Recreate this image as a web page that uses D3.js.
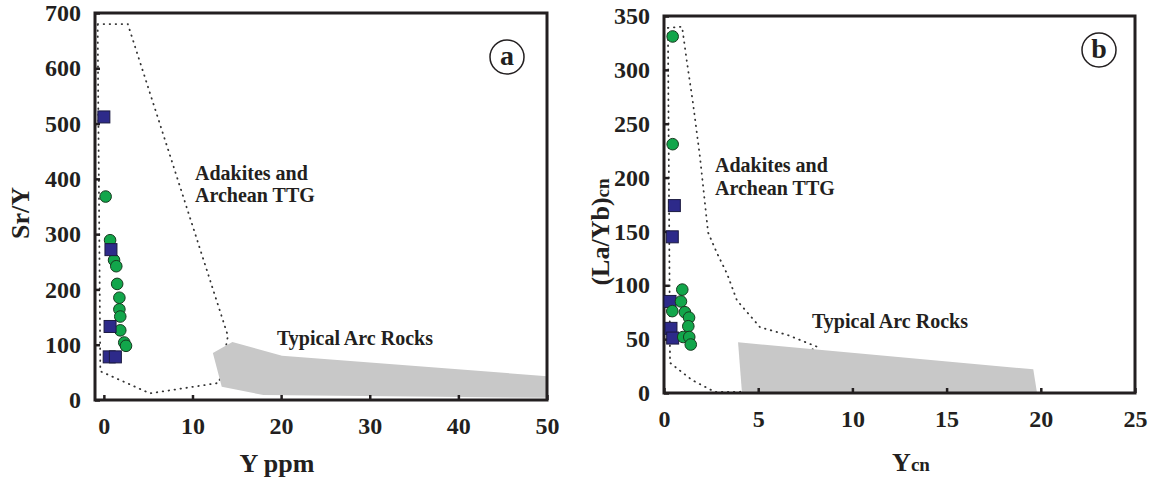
<!DOCTYPE html>
<html>
<head>
<meta charset="utf-8">
<script src="https://cdn.jsdelivr.net/npm/d3@7"></script>
<style>
  body { margin: 0; background: #fff; }
  text { font-family: "Liberation Serif", "Times New Roman", serif; font-weight: bold; fill: #231f20; }
</style>
</head>
<body>
<div id="chart"></div>
<script>
// ---- panel a : Sr/Y vs Y ppm ----
var aXTicks = [0, 10, 20, 30, 40, 50];
var aYTicks = [0, 100, 200, 300, 400, 500, 600, 700];
var aCircleX = [0.2, 0.7, 1.15, 1.4, 1.5, 1.75, 1.75, 1.85, 1.85, 2.3, 2.5];
var aCircleY = [368, 289, 253, 242, 210, 185, 164, 151, 126, 104, 98];
var aSquareX = [0.0, 0.8, 0.7, 0.6, 1.3];
var aSquareY = [512, 272, 133, 78, 78];
var aAdakite = [[-0.7, 680], [2.7, 680], [14, 116], [13, 31], [5.2, 12], [-0.4, 52]];
var aArc = [[12.3, 85], [14.5, 105], [20.1, 80], [50, 43], [50, 4], [18, 9], [13.3, 24]];

// ---- panel b : (La/Yb)cn vs Ycn ----
var bXTicks = [0, 5, 10, 15, 20, 25];
var bYTicks = [0, 50, 100, 150, 200, 250, 300, 350];
var bCircleX = [0.46, 0.46, 0.97, 0.9, 0.44, 1.11, 1.33, 1.29, 1.02, 1.34, 1.42];
var bCircleY = [331, 231, 96, 85, 76, 75, 70, 62, 52, 52, 45];
var bSquareX = [0.55, 0.44, 0.32, 0.37, 0.46];
var bSquareY = [174, 145, 85, 60, 51];
var bAdakite = [[0.21, 339], [0.96, 340], [1.22, 307], [1.54, 269], [1.91, 219], [2.34, 149],
                [2.81, 130], [3.34, 111], [3.87, 86], [5.1, 61], [6.53, 54], [8.12, 43],
                [4.03, 1], [2.7, 1], [1.49, 12], [0.32, 28]];
var bArc = [[3.93, 47], [19.6, 22], [19.8, 0], [4.14, 0]];

var svg = d3.select("#chart")
  .append("svg")
    .attr("width", 1149)
    .attr("height", 484);

function drawPanel(opt) {
  var x = d3.scaleLinear().domain(opt.xDomain).range([opt.left, opt.right]);
  var y = d3.scaleLinear().domain(opt.yDomain).range([opt.bottom, opt.top]);
  var g = svg.append("g");

  // adakite / TTG field (dotted)
  var line = d3.line().x(d => x(d[0])).y(d => y(d[1]));
  g.append("path")
    .attr("d", line(opt.adakite) + "Z")
    .attr("fill", "none")
    .attr("stroke", "#333")
    .attr("stroke-width", 1.8)
    .attr("stroke-linecap", "round")
    .attr("stroke-dasharray", "0.5,5.5");

  // arc rocks field
  g.append("path")
    .attr("d", line(opt.arc) + "Z")
    .attr("fill", "#c8c8c8");

  // axes with inside ticks
  var yAxis = g.append("g")
    .attr("transform", "translate(" + opt.left + ",0)")
    .call(d3.axisLeft(y).tickValues(opt.yTicks).tickSize(-5).tickPadding(14));
  var xAxis = g.append("g")
    .attr("transform", "translate(0," + opt.bottom + ")")
    .call(d3.axisBottom(x).tickValues(opt.xTicks).tickSize(-5).tickPadding(17));
  [yAxis, xAxis].forEach(a => {
    a.select(".domain").remove();
    a.selectAll(".tick line").attr("stroke", "#231f20").attr("stroke-width", 2.5);
    a.selectAll("text")
      .style("font-family", "'Liberation Serif', serif")
      .style("font-weight", "bold")
      .style("font-size", "24px")
      .attr("fill", "#231f20");
  });

  // frame
  g.append("rect")
    .attr("x", opt.left)
    .attr("y", opt.top)
    .attr("width", opt.right - opt.left)
    .attr("height", opt.bottom - opt.top)
    .attr("fill", "none")
    .attr("stroke", "#231f20")
    .attr("stroke-width", 3);

  // samples
  var sq = 12;
  function squares() {
    g.selectAll(null)
      .data(opt.squareX.map((v, i) => [v, opt.squareY[i]]))
      .enter().append("rect")
        .attr("x", d => x(d[0]) - sq / 2)
        .attr("y", d => y(d[1]) - sq / 2)
        .attr("width", sq)
        .attr("height", sq)
        .attr("fill", "#2d2a8a")
        .attr("stroke", "#1b1a40")
        .attr("stroke-width", 1);
  }
  function circles() {
    g.selectAll(null)
      .data(opt.circleX.map((v, i) => [v, opt.circleY[i]]))
      .enter().append("circle")
        .attr("cx", d => x(d[0]))
        .attr("cy", d => y(d[1]))
        .attr("r", 5.8)
        .attr("fill", "#12a64b")
        .attr("stroke", "#173a1f")
        .attr("stroke-width", 1);
  }
  if (opt.squaresFirst) { squares(); circles(); } else { circles(); squares(); }

  // field labels
  opt.labels.forEach(l => {
    g.append("text")
      .attr("x", l.x)
      .attr("y", l.y)
      .style("font-size", "20px")
      .text(l.text);
  });

  // panel letter
  g.append("circle")
    .attr("cx", opt.letterX)
    .attr("cy", opt.letterY)
    .attr("r", 17)
    .attr("fill", "none")
    .attr("stroke", "#231f20")
    .attr("stroke-width", 1.5);
  g.append("text")
    .attr("x", opt.letterX)
    .attr("y", opt.letterY + 8)
    .attr("text-anchor", "middle")
    .style("font-size", "28px")
    .text(opt.letter);

  return g;
}

var ga = drawPanel({
  left: 95, right: 547, top: 13, bottom: 400,
  xDomain: [-1, 50], yDomain: [0, 700],
  xTicks: aXTicks, yTicks: aYTicks,
  circleX: aCircleX, circleY: aCircleY, squareX: aSquareX, squareY: aSquareY,
  adakite: aAdakite, arc: aArc, squaresFirst: false,
  labels: [
    {x: 195, y: 180, text: "Adakites and"},
    {x: 195, y: 202, text: "Archean TTG"},
    {x: 277, y: 345, text: "Typical Arc Rocks"}
  ],
  letter: "a", letterX: 507, letterY: 57
});

var gb = drawPanel({
  left: 664, right: 1135, top: 16, bottom: 393,
  xDomain: [0, 25], yDomain: [0, 350],
  xTicks: bXTicks, yTicks: bYTicks,
  circleX: bCircleX, circleY: bCircleY, squareX: bSquareX, squareY: bSquareY,
  adakite: bAdakite, arc: bArc, squaresFirst: true,
  labels: [
    {x: 715, y: 172, text: "Adakites and"},
    {x: 715, y: 195, text: "Archean TTG"},
    {x: 812, y: 328, text: "Typical Arc Rocks"}
  ],
  letter: "b", letterX: 1099, letterY: 50
});

// axis titles
svg.append("text")
  .attr("transform", "translate(29,213)rotate(-90)")
  .attr("text-anchor", "middle")
  .style("font-size", "26px")
  .text("Sr/Y");

svg.append("text")
  .attr("x", 277)
  .attr("y", 472)
  .attr("text-anchor", "middle")
  .style("font-size", "26px")
  .text("Y ppm");

var tb = svg.append("text")
  .attr("transform", "translate(609,232)rotate(-90)")
  .attr("text-anchor", "middle")
  .style("font-size", "26px");
tb.append("tspan").text("(La/Yb)");
tb.append("tspan").style("font-size", "19px").text("cn");

var tx = svg.append("text")
  .attr("x", 911)
  .attr("y", 471)
  .attr("text-anchor", "middle")
  .style("font-size", "26px");
tx.append("tspan").text("Y");
tx.append("tspan").style("font-size", "19px").text("cn");
</script>
</body>
</html>
